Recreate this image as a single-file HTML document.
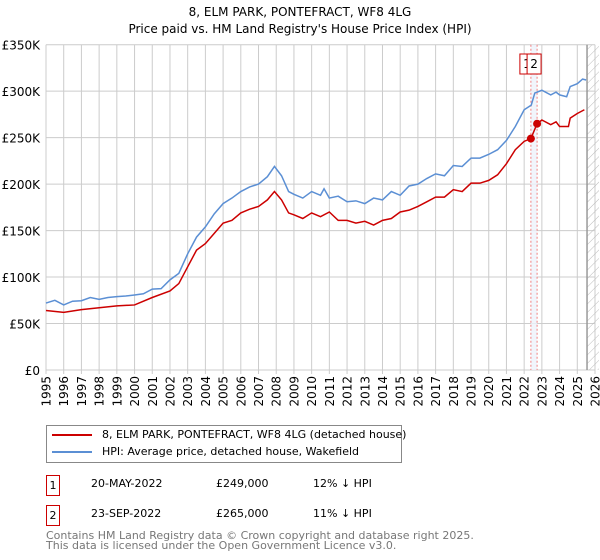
<!DOCTYPE html>
<html><head><meta charset="utf-8"><style>
body{margin:0;background:#fff;font-family:"DejaVu Sans","Liberation Sans",sans-serif;}
#wrap{position:relative;width:600px;height:560px;overflow:hidden;}
.t{position:absolute;font-size:11px;color:#000;white-space:nowrap;}
</style></head><body>
<div id="wrap">
<svg id="chart" width="600" height="560" style="position:absolute;left:0;top:0;font-family:'DejaVu Sans','Liberation Sans',sans-serif">
<defs><pattern id="hatch" width="6" height="6" patternUnits="userSpaceOnUse" patternTransform="rotate(45)"><line x1="0" y1="0" x2="0" y2="6" stroke="#bbb" stroke-width="1"/></pattern></defs>
<text x="300" y="16" text-anchor="middle" font-size="12">8, ELM PARK, PONTEFRACT, WF8 4LG</text>
<text x="300" y="33" text-anchor="middle" font-size="12">Price paid vs. HM Land Registry's House Price Index (HPI)</text>
<g id="grid"></g><g id="marks"></g>
</svg>
<div style="position:absolute;left:46px;top:425px;width:354px;height:36px;border:1px solid #888;">
 <div style="position:absolute;left:5px;top:8px;width:40px;height:2px;background:#cc0000"></div>
 <div class="t" style="left:55px;top:2px">8, ELM PARK, PONTEFRACT, WF8 4LG (detached house)</div>
 <div style="position:absolute;left:5px;top:25px;width:40px;height:2px;background:#5b8fd4"></div>
 <div class="t" style="left:55px;top:19px">HPI: Average price, detached house, Wakefield</div>
</div>
<div>
 <div class="t" style="left:46px;top:475px;width:12px;height:19px;border:1px solid #cc0000;text-align:center;line-height:19px">1</div>
 <div class="t" style="left:91px;top:477px">20-MAY-2022</div>
 <div class="t" style="left:216px;top:477px">£249,000</div>
 <div class="t" style="left:313px;top:477px">12% ↓ HPI</div>
</div>
<div>
 <div class="t" style="left:46px;top:505px;width:12px;height:19px;border:1px solid #cc0000;text-align:center;line-height:19px">2</div>
 <div class="t" style="left:91px;top:507px">23-SEP-2022</div>
 <div class="t" style="left:216px;top:507px">£265,000</div>
 <div class="t" style="left:313px;top:507px">11% ↓ HPI</div>
</div>
<div class="t" style="left:46px;top:531px;color:#777;line-height:10px;font-size:11px">Contains HM Land Registry data © Crown copyright and database right 2025.<br>This data is licensed under the Open Government Licence v3.0.</div>
</div>
<script>
const hpiYears=[1995,1995.5,1996,1996.5,1997,1997.5,1998,1998.5,1999,1999.5,2000,2000.5,2001,2001.5,2002,2002.5,2003,2003.5,2004,2004.5,2005,2005.5,2006,2006.5,2007,2007.5,2007.9,2008.3,2008.7,2009,2009.5,2010,2010.5,2010.7,2011,2011.5,2012,2012.5,2013,2013.5,2014,2014.5,2015,2015.5,2016,2016.5,2017,2017.5,2018,2018.5,2019,2019.5,2020,2020.5,2021,2021.5,2022,2022.4,2022.6,2023,2023.5,2023.8,2024,2024.4,2024.6,2025,2025.3,2025.5];
const hpiValues=[72,75,70,74,74.5,78,76,78,79,79.6,80.7,82,87,87.5,97,104,125,143,154,168,179,185,192,197,200,208,219,209,192,189,185,192,188,195,185,187,181,182,179,185,183,192,188,198,200,206,211,209,220,219,228,228,232,237,247,262,280,285,298,301,296,299,296,294,305,308,313,312];
const ppYears=[1995,1996,1997,1998,1999,2000,2001,2002,2002.5,2003,2003.5,2004,2004.5,2005,2005.5,2006,2006.5,2007,2007.5,2007.9,2008.3,2008.7,2009,2009.5,2010,2010.5,2011,2011.5,2012,2012.5,2013,2013.5,2014,2014.5,2015,2015.5,2016,2016.5,2017,2017.5,2018,2018.5,2019,2019.5,2020,2020.5,2021,2021.5,2022,2022.38,2022.73,2023,2023.5,2023.8,2024,2024.5,2024.6,2025,2025.4];
const ppValues=[64,62,65,67,69,70,78,85,93,111,129,136,147,158,161,169,173,176,183,192,183,169,167,163,169,165,170,161,161,158,160,156,161,163,170,172,176,181,186,186,194,192,201,201,204,210,222,237,246,249,265,269,264,267,262,262,271,276,280];
const saleYears=[2022.38,2022.73];
const saleValues=[249,265];
const saleLabels=["1","2"];
const yTicks=[0,50,100,150,200,250,300,350];
const yTickLabels=["£0","£50K","£100K","£150K","£200K","£250K","£300K","£350K"];
const xTicks=[];for(let y=1995;y<=2026;y++)xTicks.push(y);
const X0=46,X1=595,Y0=370,Y1=44.7;
const xs=y=>X0+(y-1995)/(2026-1995)*(X1-X0);
const ys=v=>Y0-v/350*(Y0-Y1);
const NS="http://www.w3.org/2000/svg";
const grid=document.getElementById('grid'),marks=document.getElementById('marks');
function mk(tag,attrs,parent){const e=document.createElementNS(NS,tag);for(const k in attrs)e.setAttribute(k,attrs[k]);parent.appendChild(e);return e;}
yTicks.forEach((v,i)=>{
 const l=mk('line',{x1:X0,x2:X1,y1:ys(v),y2:ys(v),stroke:'#ccc','stroke-width':1},grid);
 
 
 const t=mk('text',{x:40,y:ys(v)+5,'text-anchor':'end','font-size':12},grid);
 t.textContent=yTickLabels[i];
 
 
});
xTicks.forEach(y=>{
 const l=mk('line',{x1:xs(y),x2:xs(y),y1:Y1,y2:Y0+4,stroke:'#ccc','stroke-width':1},grid);
 
 
 const t=mk('text',{x:0,y:0,'text-anchor':'end','font-size':12,transform:`translate(${xs(y)+4.5},376) rotate(-90)`},grid);
 t.textContent=y;
 
 
});
const hx=xs(2025.55);
const h=mk('rect',{x:hx,y:Y1,width:X1+4-hx,height:Y0-Y1,fill:'url(#hatch)'},grid);


const hl=mk('line',{x1:hx,x2:hx,y1:Y1,y2:Y0,stroke:'#999','stroke-width':1.5},grid);


const band=mk('rect',{x:xs(saleYears[0]),y:Y1,width:xs(saleYears[1])-xs(saleYears[0]),height:Y0-Y1,fill:'#eef3fb',opacity:0.8},grid);


saleYears.forEach(y=>{
 const l=mk('line',{x1:xs(y),x2:xs(y),y1:Y1,y2:Y0,stroke:'#f08080','stroke-dasharray':'2,2','stroke-width':1},grid);
 
 
});
const hp=mk('polyline',{points:hpiYears.map((y,i)=>xs(y)+','+ys(hpiValues[i])).join(' '),fill:'none',stroke:'#5b8fd4','stroke-width':1.5},marks);


const pp=mk('polyline',{points:ppYears.map((y,i)=>xs(y)+','+ys(ppValues[i])).join(' '),fill:'none',stroke:'#cc0000','stroke-width':1.5},marks);


saleYears.forEach((y,i)=>{
 const c=mk('circle',{cx:xs(y),cy:ys(saleValues[i]),r:4,fill:'#cc0000'},marks);
 
 
 const bx=xs(y)-(i===0?11:10);
 const r=mk('rect',{x:bx,y:54,width:14,height:20,fill:'#fff',stroke:'#cc0000','stroke-width':1},marks);
 
 
 const t=mk('text',{x:bx+7,y:68,'text-anchor':'middle','font-size':12},marks);
 t.textContent=saleLabels[i];
 
 
});
</script>
</body></html>
